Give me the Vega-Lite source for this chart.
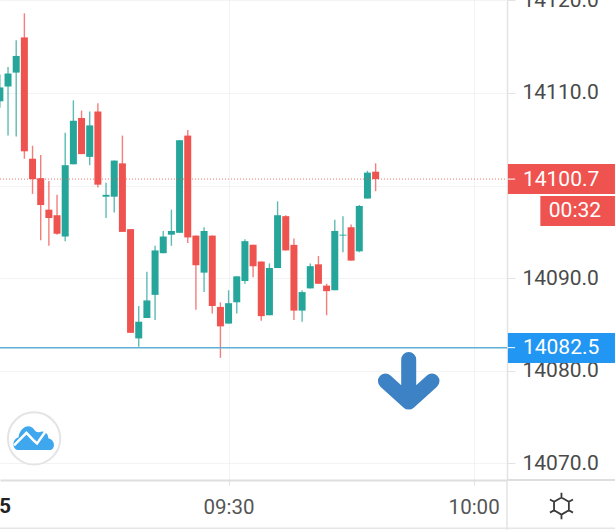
{"$schema":"https://vega.github.io/schema/vega-lite/v6.json","width":507,"height":480,"autosize":"none","padding":{"left":0,"top":0,"right":108,"bottom":50},"background":"#ffffff","config":{"view":{"stroke":null},"font":"Roboto"},"data":{"values":[
{"t":"2021-01-05T09:02:00","open":14109.1,"high":14112.0,"low":14108.4,"close":14110.6},
{"t":"2021-01-05T09:03:00","open":14110.7,"high":14112.8,"low":14105.4,"close":14112.1},
{"t":"2021-01-05T09:04:00","open":14112.2,"high":14115.7,"low":14105.3,"close":14114.0},
{"t":"2021-01-05T09:05:00","open":14116.0,"high":14118.6,"low":14102.9,"close":14103.7},
{"t":"2021-01-05T09:06:00","open":14102.9,"high":14104.3,"low":14099.1,"close":14100.7},
{"t":"2021-01-05T09:07:00","open":14100.8,"high":14103.3,"low":14094.1,"close":14097.9},
{"t":"2021-01-05T09:08:00","open":14097.4,"high":14100.5,"low":14093.5,"close":14096.5},
{"t":"2021-01-05T09:09:00","open":14096.8,"high":14099.0,"low":14094.7,"close":14094.8},
{"t":"2021-01-05T09:10:00","open":14094.5,"high":14105.7,"low":14094.0,"close":14102.2},
{"t":"2021-01-05T09:11:00","open":14102.3,"high":14109.2,"low":14102.3,"close":14107.0},
{"t":"2021-01-05T09:12:00","open":14107.3,"high":14108.1,"low":14103.4,"close":14103.4},
{"t":"2021-01-05T09:13:00","open":14103.1,"high":14108.0,"low":14102.2,"close":14106.5},
{"t":"2021-01-05T09:14:00","open":14108.0,"high":14108.9,"low":14099.8,"close":14100.1},
{"t":"2021-01-05T09:15:00","open":14098.8,"high":14100.3,"low":14096.5,"close":14099.0},
{"t":"2021-01-05T09:16:00","open":14098.8,"high":14102.7,"low":14097.1,"close":14102.7},
{"t":"2021-01-05T09:17:00","open":14102.4,"high":14105.4,"low":14095.0,"close":14095.0},
{"t":"2021-01-05T09:18:00","open":14095.3,"high":14095.3,"low":14084.1,"close":14084.1},
{"t":"2021-01-05T09:19:00","open":14083.5,"high":14087.0,"low":14082.6,"close":14085.3},
{"t":"2021-01-05T09:20:00","open":14085.7,"high":14090.7,"low":14085.7,"close":14087.6},
{"t":"2021-01-05T09:21:00","open":14088.2,"high":14093.5,"low":14085.5,"close":14093.0},
{"t":"2021-01-05T09:22:00","open":14092.7,"high":14095.1,"low":14092.7,"close":14094.5},
{"t":"2021-01-05T09:23:00","open":14094.7,"high":14097.4,"low":14093.5,"close":14095.1},
{"t":"2021-01-05T09:24:00","open":14094.9,"high":14104.9,"low":14094.9,"close":14104.9},
{"t":"2021-01-05T09:25:00","open":14105.4,"high":14106.0,"low":14093.8,"close":14094.4},
{"t":"2021-01-05T09:26:00","open":14094.6,"high":14094.6,"low":14086.6,"close":14091.4},
{"t":"2021-01-05T09:27:00","open":14090.6,"high":14095.5,"low":14088.5,"close":14095.1},
{"t":"2021-01-05T09:28:00","open":14094.6,"high":14094.6,"low":14086.2,"close":14087.0},
{"t":"2021-01-05T09:29:00","open":14086.9,"high":14087.4,"low":14081.4,"close":14084.8},
{"t":"2021-01-05T09:30:00","open":14085.1,"high":14088.7,"low":14085.1,"close":14087.3},
{"t":"2021-01-05T09:31:00","open":14087.4,"high":14090.2,"low":14086.2,"close":14090.2},
{"t":"2021-01-05T09:32:00","open":14089.7,"high":14094.2,"low":14089.4,"close":14094.0},
{"t":"2021-01-05T09:33:00","open":14093.6,"high":14093.6,"low":14090.1,"close":14091.3},
{"t":"2021-01-05T09:34:00","open":14091.8,"high":14091.8,"low":14085.4,"close":14085.9},
{"t":"2021-01-05T09:35:00","open":14086.0,"high":14091.6,"low":14086.0,"close":14091.1},
{"t":"2021-01-05T09:36:00","open":14091.1,"high":14098.3,"low":14091.1,"close":14096.8},
{"t":"2021-01-05T09:37:00","open":14096.7,"high":14096.8,"low":14093.0,"close":14093.0},
{"t":"2021-01-05T09:38:00","open":14093.6,"high":14094.3,"low":14085.5,"close":14086.5},
{"t":"2021-01-05T09:39:00","open":14086.5,"high":14088.7,"low":14085.3,"close":14088.5},
{"t":"2021-01-05T09:40:00","open":14088.9,"high":14091.6,"low":14088.9,"close":14091.3},
{"t":"2021-01-05T09:41:00","open":14091.5,"high":14092.4,"low":14089.4,"close":14089.4},
{"t":"2021-01-05T09:42:00","open":14089.2,"high":14089.4,"low":14086.0,"close":14088.6},
{"t":"2021-01-05T09:43:00","open":14088.7,"high":14096.3,"low":14088.7,"close":14095.1},
{"t":"2021-01-05T09:44:00","open":14094.6,"high":14096.7,"low":14092.8,"close":14094.7},
{"t":"2021-01-05T09:45:00","open":14095.5,"high":14095.8,"low":14091.9,"close":14091.9},
{"t":"2021-01-05T09:46:00","open":14092.9,"high":14097.9,"low":14092.8,"close":14097.8},
{"t":"2021-01-05T09:47:00","open":14098.6,"high":14101.6,"low":14098.6,"close":14101.4},
{"t":"2021-01-05T09:48:00","open":14101.5,"high":14102.4,"low":14099.4,"close":14100.7}
]},
"encoding":{
"x":{"field":"t","type":"temporal","title":null,"scale":{"domain":["2021-01-05T09:02:01","2021-01-05T10:04:05"],"padding":0},"axis":{"orient":"bottom","title":null,"values":["2021-01-05T09:30:00","2021-01-05T10:00:00"],"format":"%H:%M","grid":true,"gridColor":"#f1f3f4","gridWidth":1,"domainColor":"#dedede","domainWidth":2,"tickColor":"#e3e3e3","tickSize":5,"labelFont":"Roboto","labelFontSize":20.5,"labelColor":"#555555","labelPadding":12,"labelOverlap":false,"labelFlush":false,"labelBound":false}}
},
"layer":[
{"mark":{"type":"rule","strokeWidth":1.4,"opacity":0.75},"encoding":{"y":{"field":"low","type":"quantitative","title":null,"scale":{"domain":[14068.21,14120.04],"zero":false,"nice":false},"axis":{"orient":"right","title":null,"values":[14070,14080,14090,14100,14110,14120],"labelExpr":"datum.value==14100?'':format(datum.value,'.1f')","grid":true,"gridColor":"#f1f3f4","gridWidth":1,"domainColor":"#e3e3e3","domainWidth":1.5,"tickColor":"#e3e3e3","tickSize":8,"labelFont":"Roboto","labelFontSize":21,"labelColor":"#4a4a4a","labelPadding":7,"labelOverlap":false,"labelFlush":false,"labelBound":false}},"y2":{"field":"high"},"color":{"condition":{"test":"datum.close>=datum.open","value":"#26a69a"},"value":"#ef5350"}}},
{"mark":{"type":"bar","size":7},"encoding":{"y":{"field":"open","type":"quantitative"},"y2":{"field":"close"},"color":{"condition":{"test":"datum.close>=datum.open","value":"#26a69a"},"value":"#ef5350"}}},
{"data":{"values":[{"from":"2021-01-05T10:04:05","to":"2021-01-05T10:17:18","p":14068.21}]},"mark":{"type":"rule","color":"#dedede","strokeWidth":2},"encoding":{"x":{"field":"from","type":"temporal"},"x2":{"field":"to"},"y":{"field":"p","type":"quantitative"}}},
{"data":{"values":[{"t":"2021-01-05T10:04:05","p":14068.21,"p2":14062.8}]},"mark":{"type":"rule","color":"#e3e3e3","strokeWidth":1.5},"encoding":{"y":{"field":"p","type":"quantitative"},"y2":{"field":"p2"}}},
{"data":{"values":[{"from":"2021-01-05T09:02:01","to":"2021-01-05T10:17:18","p":14063.0}]},"mark":{"type":"rule","color":"#e6e6e6","strokeWidth":1.5},"encoding":{"x":{"field":"from","type":"temporal"},"x2":{"field":"to"},"y":{"field":"p","type":"quantitative"}}},
{"data":{"values":[{"from":"2021-01-05T09:02:01","to":"2021-01-05T10:04:05","last":14100.7}]},"mark":{"type":"rule","color":"#ef5350","strokeWidth":1,"strokeDash":[1,2],"opacity":0.8},"encoding":{"x":{"field":"from","type":"temporal"},"x2":{"field":"to"},"y":{"field":"last","type":"quantitative"}}},
{"data":{"values":[{"from":"2021-01-05T09:02:01","to":"2021-01-05T10:04:05","level":14082.5}]},"mark":{"type":"rule","color":"#5fb0d6","strokeWidth":1.5},"encoding":{"x":{"field":"from","type":"temporal"},"x2":{"field":"to"},"y":{"field":"level","type":"quantitative"}}},
{"data":{"values":[
{"from":"2021-01-05T10:04:12","to":"2021-01-05T10:17:18","top":14102.33,"bottom":14099.09,"c":"last"},
{"from":"2021-01-05T10:08:10","to":"2021-01-05T10:17:18","top":14098.88,"bottom":14095.64,"c":"last"},
{"from":"2021-01-05T10:04:12","to":"2021-01-05T10:17:18","top":14084.08,"bottom":14080.84,"c":"level"}
]},"mark":{"type":"rect"},"encoding":{"x":{"field":"from","type":"temporal"},"x2":{"field":"to"},"y":{"field":"top","type":"quantitative"},"y2":{"field":"bottom"},"color":{"field":"c","type":"nominal","legend":null,"scale":{"domain":["last","level"],"range":["#ef5350","#2196f3"]}}}},
{"data":{"values":[{"from":"2021-01-05T10:04:12","to":"2021-01-05T10:05:05","p":14100.7},{"from":"2021-01-05T10:04:12","to":"2021-01-05T10:05:05","p":14082.5}]},"mark":{"type":"rule","color":"#ffffff","strokeWidth":1},"encoding":{"x":{"field":"from","type":"temporal"},"x2":{"field":"to"},"y":{"field":"p","type":"quantitative"}}},
{"data":{"values":[{"t":"2021-01-05T10:06:02","p":14100.65,"label":"14100.7"},{"t":"2021-01-05T10:06:02","p":14082.45,"label":"14082.5"}]},"mark":{"type":"text","align":"left","baseline":"middle","font":"Roboto","fontSize":21,"color":"#ffffff"},"encoding":{"y":{"field":"p","type":"quantitative"},"text":{"field":"label"}}},
{"data":{"values":[{"t":"2021-01-05T10:15:36","p":14097.25,"label":"00:32"}]},"mark":{"type":"text","align":"right","baseline":"middle","font":"Roboto","fontSize":21,"color":"#ffffff"},"encoding":{"y":{"field":"p","type":"quantitative"},"text":{"field":"label"}}},
{"data":{"values":[{"t":"2021-01-05T09:02:38","p":14065.3,"label":"5"}]},"mark":{"type":"text","align":"center","baseline":"middle","font":"Roboto","fontSize":20.5,"fontWeight":"bold","color":"#222222"},"encoding":{"y":{"field":"p","type":"quantitative"},"text":{"field":"label"}}},
{"data":{"values":[{"t":"2021-01-05T09:52:03","p":14079}]},"mark":{"type":"point","shape":"M0,-0.82L0,0.88M-0.93,0.04L0,0.88L0.93,0.04","size":2500,"filled":false,"fill":"transparent","stroke":"#3d82c4","strokeWidth":15,"strokeCap":"round","strokeJoin":"round","opacity":1},"encoding":{"y":{"field":"p","type":"quantitative"}}},
{"data":{"values":[{"t":"2021-01-05T09:06:11","p":14072.7}]},"mark":{"type":"point","shape":"circle","size":2734,"filled":true,"fill":"#ffffff","stroke":"#e4e4e4","strokeWidth":2,"opacity":1},"encoding":{"y":{"field":"p","type":"quantitative"}}},
{"data":{"values":[{"t":"2021-01-05T09:06:11","p":14072.7}]},"mark":{"type":"point","shape":"M-0.78,0.58C-1.1,0.58,-1.12,0.02,-0.78,-0.05C-0.7,-0.6,-0.2,-0.78,0.02,-0.42C0.1,-0.3,0.2,-0.3,0.28,-0.32C0.5,-0.42,0.72,-0.25,0.72,0C1.08,0.05,1.08,0.58,0.78,0.58Z","size":1600,"filled":true,"fill":"#3fa7ee","opacity":1},"encoding":{"y":{"field":"p","type":"quantitative"}}},
{"data":{"values":[{"t":"2021-01-05T09:06:11","p":14072.7}]},"mark":{"type":"point","shape":"M-1,0.35L-0.38,-0.28L0,0.12L0.15,0.25L0.6,-0.38","size":1600,"filled":false,"fill":"transparent","stroke":"#ffffff","strokeWidth":2.5,"opacity":1},"encoding":{"y":{"field":"p","type":"quantitative"}}},
{"data":{"values":[{"t":"2021-01-05T10:10:45","p":14065.4}]},"mark":{"type":"point","shape":"M0,-0.65L0.56,-0.325L0.56,0.325L0,0.65L-0.56,0.325L-0.56,-0.325ZM0,-0.65L0,-1M0.56,-0.325L0.87,-0.5M0.56,0.325L0.87,0.5M0,0.65L0,1M-0.56,0.325L-0.87,0.5M-0.56,-0.325L-0.87,-0.5","size":700,"filled":false,"fill":"transparent","stroke":"#3a3a3a","strokeWidth":1.8,"opacity":1},"encoding":{"y":{"field":"p","type":"quantitative"}}}
]}
